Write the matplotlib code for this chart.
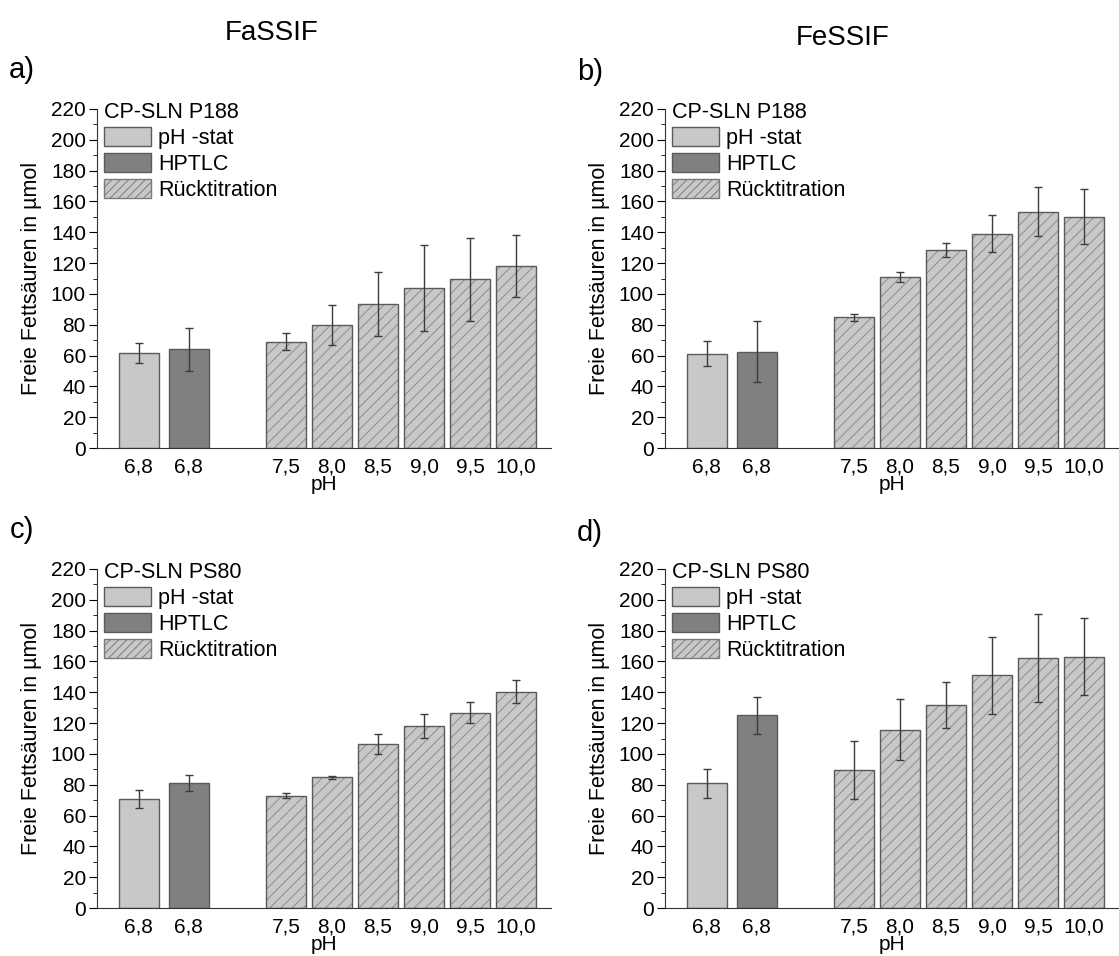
import matplotlib
matplotlib.use("Agg")
import matplotlib.pyplot as plt
from matplotlib.patches import Patch
from matplotlib.ticker import MultipleLocator
import numpy as np

plt.rcParams['font.family'] = ['Liberation Sans', 'DejaVu Sans']
plt.rcParams['hatch.linewidth'] = 0.7

tick_labels = ["6,8", "6,8", "7,5", "8,0", "8,5", "9,0", "9,5", "10,0"]
positions = [0, 1.08, 3.2, 4.2, 5.2, 6.2, 7.2, 8.2]

# panel a: FaSSIF, CP-SLN P188
a_vals = [61.5, 64, 69, 80, 93.5, 104, 109.5, 118]
a_errs = [6.5, 14, 5.7, 13, 21, 28, 27, 20]
# panel b: FeSSIF, CP-SLN P188
b_vals = [61.3, 62.6, 84.8, 111, 128.6, 139.2, 153.4, 150.2]
b_errs = [8, 20, 2.2, 3.2, 4.4, 12, 15.8, 18]
# panel c: FaSSIF, CP-SLN PS80
c_vals = [70.8, 81.2, 73, 84.8, 106.4, 118.3, 126.8, 140.5]
c_errs = [6, 5.3, 1.4, 1, 6.7, 7.8, 7, 7.3]
# panel d: FeSSIF, CP-SLN PS80
d_vals = [80.8, 125, 89.5, 115.8, 131.8, 151, 162.3, 163]
d_errs = [9.4, 12, 18.7, 20, 15, 25, 28.5, 25]

light = "#c8c8c8"
dark = "#808080"
edge = "#5a5a5a"

W, H = 1119, 956
fig = plt.figure(figsize=(W / 100, H / 100), dpi=100)


def panel(left_px, bottom_px, vals, errs, title):
    ax = fig.add_axes([left_px / W, 1 - bottom_px / H, 454 / W, 339 / H])
    x = np.array(positions)
    v = np.array(vals)
    e = np.array(errs)
    bw = 0.87
    ax.bar(x[0], v[0], bw, color=light, edgecolor=edge, linewidth=1, zorder=2)
    ax.bar(x[1], v[1], bw, color=dark, edgecolor=edge, linewidth=1, zorder=2)
    ax.bar(x[2:], v[2:], bw, color=light, edgecolor="#8c8c8c", linewidth=0,
           hatch="///", zorder=2)
    ax.bar(x[2:], v[2:], bw, fill=False, edgecolor=edge, linewidth=1, zorder=3)
    ax.errorbar(x, v, yerr=e, fmt="none", ecolor="#3c3c3c", elinewidth=1,
                capsize=3, capthick=1, zorder=4)

    ax.set_xlim(-0.91, 8.96)
    ax.set_ylim(0, 220)
    ax.yaxis.set_major_locator(MultipleLocator(20))
    ax.yaxis.set_minor_locator(MultipleLocator(10))
    ax.set_xticks(x)
    ax.set_xticklabels(tick_labels)
    ax.tick_params(axis="x", length=0, labelsize=15, pad=7)
    ax.tick_params(axis="y", which="major", length=6, direction="out", labelsize=15, pad=2)
    ax.tick_params(axis="y", which="minor", length=3, direction="out")
    for s in ["top", "right"]:
        ax.spines[s].set_visible(False)
    for s in ["left", "bottom"]:
        ax.spines[s].set_color("#333333")
    ax.set_xlabel("pH", fontsize=15, labelpad=-1)
    ax.set_ylabel("Freie Fettsäuren in µmol", fontsize=15.5)
    ax.yaxis.set_label_coords(-0.122, 0.5)

    handles = [
        Patch(facecolor=light, edgecolor=edge, label="pH -stat"),
        Patch(facecolor=dark, edgecolor=edge, label="HPTLC"),
        Patch(facecolor=light, edgecolor="#7a7a7a", hatch="////", label="Rücktitration"),
    ]
    leg = ax.legend(handles=handles, title=title, loc="upper left",
                    bbox_to_anchor=(-0.006, 1.05), frameon=False, fontsize=15.5,
                    title_fontsize=15.5, handlelength=2.2, handleheight=0.95,
                    handletextpad=0.3, labelspacing=0.2, borderaxespad=0.2,
                    borderpad=0.25)
    leg._legend_box.align = "left"
    return ax


panel(97, 448, a_vals, a_errs, "CP-SLN P188")
panel(665, 448, b_vals, b_errs, "CP-SLN P188")
panel(97, 908, c_vals, c_errs, "CP-SLN PS80")
panel(665, 908, d_vals, d_errs, "CP-SLN PS80")

fig.text(272 / W, 1 - 33 / H, "FaSSIF", fontsize=20, ha="center", va="center")
fig.text(843 / W, 1 - 38 / H, "FeSSIF", fontsize=20, ha="center", va="center")
fig.text(22 / W, 1 - 70 / H, "a)", fontsize=21, ha="center", va="center")
fig.text(590 / W, 1 - 72 / H, "b)", fontsize=21, ha="center", va="center")
fig.text(22 / W, 1 - 530 / H, "c)", fontsize=21, ha="center", va="center")
fig.text(590 / W, 1 - 533 / H, "d)", fontsize=21, ha="center", va="center")

fig.savefig("out.png", dpi=100)
